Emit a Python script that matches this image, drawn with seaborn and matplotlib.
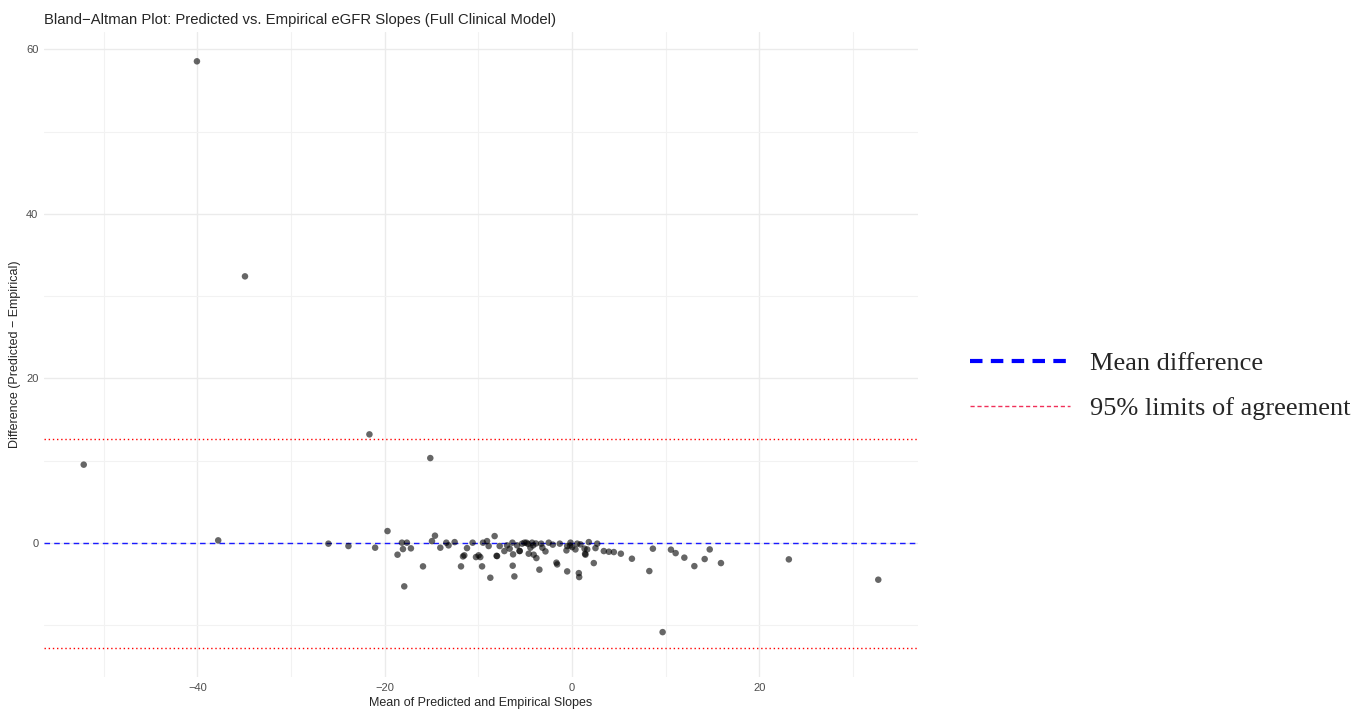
import numpy as np
import pandas as pd
import matplotlib
matplotlib.use('Agg')
import matplotlib.pyplot as plt
from matplotlib.lines import Line2D
import seaborn as sns

sns.set_style('white')
plt.rcParams['font.family'] = ['Liberation Sans', 'DejaVu Sans']

# values
mean_slope = [-40.05, -34.92, -52.14, -21.63, -15.13, -37.78, 32.71, 9.68, 23.16,
              -26.01, -23.87, -21.02, -19.70, -18.63, -18.16, -17.63, -18.05, -17.20, -17.91,
              -15.91, -14.95, -14.63, -14.06, -13.42, -13.18, -12.53, -11.85, -11.64, -11.50,
              -11.21, -10.61, -10.25, -9.97, -9.79, -9.60, -9.50, -9.07, -8.90, -8.72,
              -8.26, -8.00, -7.72, -7.22, -6.93, -6.65, -6.36, -6.29, -6.33, -6.15,
              -5.86, -5.58, -5.33, -5.08, -4.87, -4.62, -4.44, -4.26, -4.15, -4.09,
              -3.80, -3.48, -3.29, -3.16, -2.83, -2.48, -2.05, -1.66, -1.58, -1.30,
              -0.59, -0.51, -0.51, -0.16, 0.02, 0.37, 0.56, 0.73, 0.77, 0.91,
              1.34, 1.44, 1.63, 1.80, 2.33, 2.51, 2.70, 3.40, 3.94, 4.47,
              5.22, 6.40, 8.26, 8.64, 10.57, 11.07, 12.00, 13.07, 14.17, 14.71, 15.91,
              -8.05, -5.60, -4.70, -3.85, -0.20, 1.40]
difference = [58.54, 32.41, 9.53, 13.21, 10.33, 0.33, -4.45, -10.82, -1.98,
              -0.07, -0.36, -0.56, 1.46, -1.41, 0.05, 0.05, -0.73, -0.64, -5.26,
              -2.83, 0.24, 0.90, -0.56, 0.05, -0.28, 0.12, -2.83, -1.62, -1.49,
              -0.61, 0.05, -1.70, -1.49, -1.70, -2.83, 0.05, 0.24, -0.36, -4.21,
              0.85, -1.58, -0.36, -0.97, -0.28, -0.68, 0.05, -1.37, -2.75, -4.05,
              -0.28, -0.97, -0.07, 0.05, 0.05, -1.29, -0.56, 0.05, -0.28, -1.41,
              -1.82, -3.23, -0.07, -0.56, -1.01, 0.05, -0.19, -2.38, -2.59, -0.07,
              -0.89, -3.44, -0.36, 0.05, -0.49, -0.77, -0.07, -3.65, -4.13, -0.16,
              -0.68, -1.41, -0.77, 0.12, -2.43, -0.61, -0.07, -0.97, -1.05, -1.09,
              -1.29, -1.90, -3.40, -0.68, -0.80, -1.22, -1.77, -2.80, -1.94, -0.77, -2.43,
              -1.55, -0.95, -0.10, -0.05, -0.30, -1.30]
mean_diff = -0.02
loa_upper = 12.67
loa_lower = -12.71

df = pd.DataFrame({'mean': mean_slope, 'diff': difference})

fig = plt.figure(figsize=(13.72, 7.11), dpi=100)
ax = fig.add_axes([44 / 1372, 1 - 677 / 711, (918 - 44) / 1372, (677 - 32) / 711])

sns.scatterplot(data=df, x='mean', y='diff', ax=ax, color='black', alpha=0.6,
                s=22, edgecolor='none', zorder=3)
ax.axhline(mean_diff, color='#1a1aff', linestyle=(0, (4, 3)), linewidth=1.0, zorder=2)
ax.axhline(loa_upper, color='red', linestyle=(0, (1, 2)), linewidth=1.0, zorder=2)
ax.axhline(loa_lower, color='red', linestyle=(0, (1, 2)), linewidth=1.0, zorder=2)

# ggplot-style 5% expansion, limits lines included in the y range
xr = max(mean_slope) - min(mean_slope)
ax.set_xlim(min(mean_slope) - 0.05 * xr, max(mean_slope) + 0.05 * xr)
ylo, yhi = min(difference + [loa_lower]), max(difference + [loa_upper])
yr = yhi - ylo
ax.set_ylim(ylo - 0.05 * yr, yhi + 0.05 * yr)

ax.set_xticks([-40, -20, 0, 20])
ax.set_xticks([-50, -30, -10, 10, 30], minor=True)
ax.set_yticks([0, 20, 40, 60])
ax.set_yticks([-10, 10, 30, 50], minor=True)
ax.grid(which='major', color='#EBEBEB', linewidth=1.0)
ax.grid(which='minor', color='#F2F2F2', linewidth=0.8)
ax.set_axisbelow(True)
for s in ax.spines.values():
    s.set_visible(False)
ax.tick_params(which='both', length=0, labelsize=8, labelcolor='#4D4D4D', pad=4)

ax.set_title('Bland\u2212Altman Plot: Predicted vs. Empirical eGFR Slopes (Full Clinical Model)',
             loc='left', fontsize=10.7, pad=6, x=0)
ax.set_xlabel('Mean of Predicted and Empirical Slopes', fontsize=9, labelpad=3)
ax.set_ylabel('Difference (Predicted \u2212 Empirical)', fontsize=9, labelpad=4)

handles = [Line2D([0], [0], color='blue', linestyle=(0, (3, 2)), linewidth=3),
           Line2D([0], [0], color='#F0305A', linestyle=(0, (3, 2)), linewidth=1)]
fig.legend(handles, ['Mean difference', '95% limits of agreement'],
           loc='center left', bbox_to_anchor=(946 / 1372, 1 - 386 / 711),
           frameon=False, handlelength=3.8, handletextpad=0.75, labelspacing=0.8,
           prop={'family': 'Liberation Serif', 'size': 19})

fig.savefig('out.png', dpi=100)
plt.close()
